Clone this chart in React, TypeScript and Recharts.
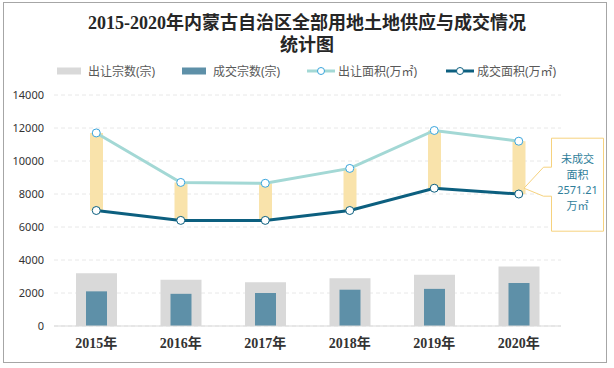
import { ComposedChart, Bar, Line, XAxis, YAxis, CartesianGrid, LabelList } from 'recharts'

const years = ['2015年', '2016年', '2017年', '2018年', '2019年', '2020年']
const supplyCount = [3200, 2800, 2650, 2900, 3100, 3600]
const dealCount = [2100, 1950, 2000, 2200, 2250, 2600]
const supplyArea = [11700, 8700, 8650, 9550, 11850, 11200]
const dealArea = [7000, 6400, 6400, 7000, 8350, 8000]
const yTicks = [0, 2000, 4000, 6000, 8000, 10000, 12000, 14000]
const unsoldNote = ['未成交', '面积', '2571.21', '万㎡']

const chartData = years.map((year, i) => ({
  year,
  supplyCount: supplyCount[i],
  dealCount: dealCount[i],
  supplyArea: supplyArea[i],
  dealArea: dealArea[i],
  gap: [dealArea[i], supplyArea[i]],
}))

const serif = '"Liberation Serif", "Noto Sans CJK SC", serif'
const sans = '"Noto Sans", "Noto Sans CJK SC", sans-serif'

function Callout(props: any) {
  const { index } = props
  if (index !== years.length - 1) return null
  const x = Number(props.x)
  const y = Number(props.y)
  const rx = x + Number(props.width)
  const left = rx + 26
  const top = y - 3
  const w = 52
  const h = 93
  const d = `M${left},${top} H${left + w} V${top + h} H${left} V${y + 55} H${left - 8} L${rx - 1.5},${y + 47} L${left - 8},${y + 26} H${left} Z`
  return (
    <g>
      <path d={d} fill="#fff" stroke="#f6d27e" strokeWidth={1} />
      {unsoldNote.map((t, i) => (
        <text key={t} x={left + w / 2} y={top + 25 + i * 15.5} textAnchor="middle" fontSize={11} fill="#2f7e9a" fontFamily={sans}>
          {t}
        </text>
      ))}
    </g>
  )
}

function LegendItems() {
  const items = [
    { label: '出让宗数(宗)', kind: 'bar', color: '#d9d9d9', x: 57 },
    { label: '成交宗数(宗)', kind: 'bar', color: '#5e90a8', x: 182 },
    { label: '出让面积(万㎡)', kind: 'line', color: '#a3d8d5', dot: '#3aa5dc', x: 307 },
    { label: '成交面积(万㎡)', kind: 'line', color: '#0c5f7f', dot: '#0c5f7f', x: 446 },
  ]
  return (
    <>
      {items.map((it) => (
        <div key={it.label} style={{ position: 'absolute', left: it.x, top: 62, height: 18, display: 'flex', alignItems: 'center', fontSize: 12, color: '#595959', fontFamily: sans, whiteSpace: 'nowrap' }}>
          <svg width={28} height={10} style={{ marginRight: 3 }}>
            {it.kind === 'bar' ? (
              <rect x={0} y={1.5} width={24} height={7} fill={it.color} />
            ) : (
              <>
                <line x1={0} y1={5} x2={28} y2={5} stroke={it.color} strokeWidth={3} />
                <circle cx={14} cy={5} r={3.5} fill="#fff" stroke={it.dot} strokeWidth={1} />
              </>
            )}
          </svg>
          {it.label}
        </div>
      ))}
    </>
  )
}

export default function App() {
  return (
    <div style={{ position: 'absolute', left: 0, top: 0, width: 614, height: 368, background: '#fff' }}>
      <div style={{ position: 'absolute', left: 3, top: 2, width: 604, height: 361, border: '1px solid #a6a6a6', boxSizing: 'border-box' }} />
      <div style={{ position: 'absolute', left: 0, top: 12, width: 614, textAlign: 'center', fontFamily: serif, fontWeight: 'bold', fontSize: 18, lineHeight: '22px', color: '#262626' }}>
        2015-2020年内蒙古自治区全部用地土地供应与成交情况
        <br />
        统计图
      </div>
      <LegendItems />
      <div style={{ position: 'absolute', left: 0, top: 0 }}>
        <ComposedChart width={614} height={368} data={chartData} margin={{ top: 95, right: 53, bottom: 12, left: 0 }}>
          <CartesianGrid vertical={false} stroke="#e8e8e8" strokeDasharray="4 3" />
          <XAxis xAxisId="main" dataKey="year" tickLine={false} axisLine={{ stroke: '#d9d9d9' }} tickSize={0} tickMargin={12} height={30}
            tick={{ fontSize: 14, fontWeight: 'bold', fill: '#333', fontFamily: serif }} />
          <XAxis xAxisId="inner" dataKey="year" hide height={0} />
          <XAxis xAxisId="gap" dataKey="year" hide height={0} />
          <YAxis width={54} domain={[0, 14000]} ticks={yTicks} axisLine={false} tickLine={false} tickSize={0} tickMargin={10}
            tick={{ fontSize: 11, fill: '#333', fontFamily: sans }} />
          <Bar xAxisId="main" dataKey="supplyCount" fill="#d9d9d9" barSize={41} isAnimationActive={false} />
          <Bar xAxisId="inner" dataKey="dealCount" fill="#5e90a8" barSize={21} isAnimationActive={false} />
          <Bar xAxisId="gap" dataKey="gap" fill="#f9e3ab" barSize={13} isAnimationActive={false}>
            <LabelList dataKey="gap" content={<Callout />} />
          </Bar>
          <Line xAxisId="main" dataKey="supplyArea" stroke="#a3d8d5" strokeWidth={3}
            dot={{ r: 4, fill: '#fff', stroke: '#3aa5dc', strokeWidth: 1 }} activeDot={false} isAnimationActive={false} />
          <Line xAxisId="main" dataKey="dealArea" stroke="#0c5f7f" strokeWidth={3}
            dot={{ r: 4, fill: '#fff', stroke: '#0c5f7f', strokeWidth: 1 }} activeDot={false} isAnimationActive={false} />
        </ComposedChart>
      </div>
    </div>
  )
}
